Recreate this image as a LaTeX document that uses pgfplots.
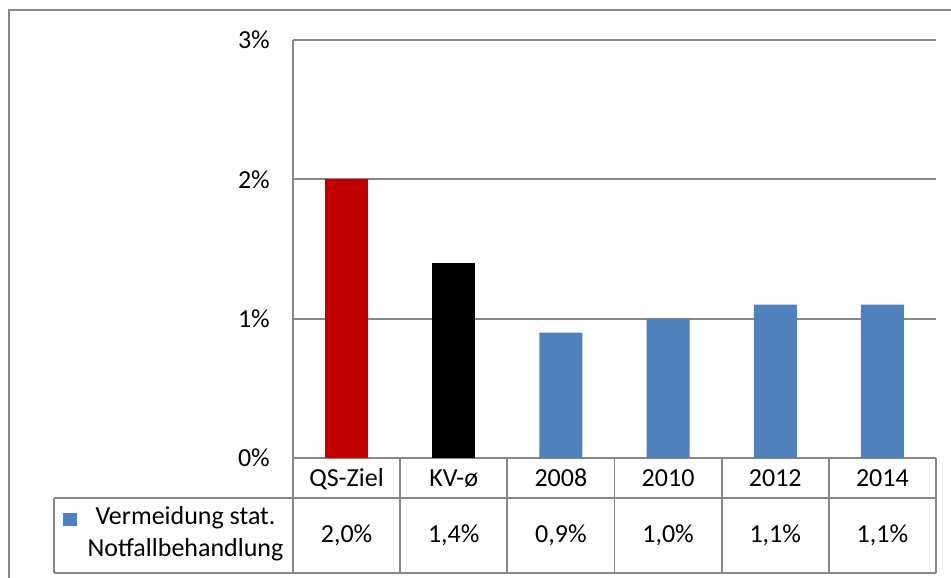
\documentclass[border=0pt]{standalone}
\usepackage{pgfplots}
\pgfplotsset{compat=1.18}
\usepackage{fontspec}
\setmainfont{Carlito}
\definecolor{qsred}{HTML}{C00000}
\definecolor{kvblue}{HTML}{4F81BD}
\definecolor{rulegray}{HTML}{878787}
\begin{document}
\fontsize{26}{32}\selectfont
\begin{tikzpicture}[x=1pt,y=1pt]
\useasboundingbox (0,0) rectangle (951,578);
% outer chart frame
\draw[rulegray, line width=2pt] (9,0) -- (9,568) -- (951,568);
\begin{axis}[
  at={(293pt,120pt)}, anchor=south west,
  scale only axis, width=643pt, height=418pt,
  xmin=-0.5, xmax=5.5, ymin=0, ymax=3,
  xtick={0,1,2,3,4,5},
  xticklabels={QS-Ziel,KV-ø,2008,2010,2012,2014},
  ytick={0,1,2,3}, yticklabels={0\%,1\%,2\%,3\%},
  /pgf/number format/assume math mode=true,
  major tick length=0pt,
  axis x line*=bottom, axis y line*=left,
  axis line style={draw=rulegray, line width=1.8pt, -},
  ymajorgrids, grid style={draw=rulegray, line width=1.8pt},
  tick label style={font=\fontsize{26}{32}\selectfont},
  xticklabel style={anchor=base, yshift=-29pt, inner sep=0pt},
  yticklabel style={anchor=east, xshift=-23pt, inner sep=0pt},
  clip=false,
]
\addplot[ybar, bar width=43pt, bar shift=0pt, fill=qsred, draw=none]
  coordinates {(0,2.0)};
\addplot[ybar, bar width=43pt, bar shift=0pt, fill=black, draw=none]
  coordinates {(1,1.4)};
\addplot[ybar, bar width=43pt, bar shift=0pt, fill=kvblue, draw=none]
  coordinates {(2,0.9) (3,1.0) (4,1.1) (5,1.1)};
\end{axis}
% data table below the axis
\begin{scope}[rulegray, line width=1.8pt]
  \draw (54,80) -- (936,80);
  \draw (54,5) -- (936,5);
  \draw (54,5) -- (54,80);
  \foreach \k in {0,...,6} \draw ({293+107.1667*\k},5) -- ({293+107.1667*\k},120);
\end{scope}
\foreach \k/\v in {0/{2,0\%},1/{1,4\%},2/{0,9\%},3/{1,0\%},4/{1,1\%},5/{1,1\%}}
  \node[anchor=base, inner sep=0pt] at ({346.58+107.1667*\k},35) {\v};
\fill[kvblue] (63,51.5) rectangle (76.5,65);
\node[anchor=base, inner sep=0pt] at (185.5,53) {Vermeidung stat.};
\node[anchor=base, inner sep=0pt] at (185.5,21) {Notfallbehandlung};
\end{tikzpicture}
\end{document}
